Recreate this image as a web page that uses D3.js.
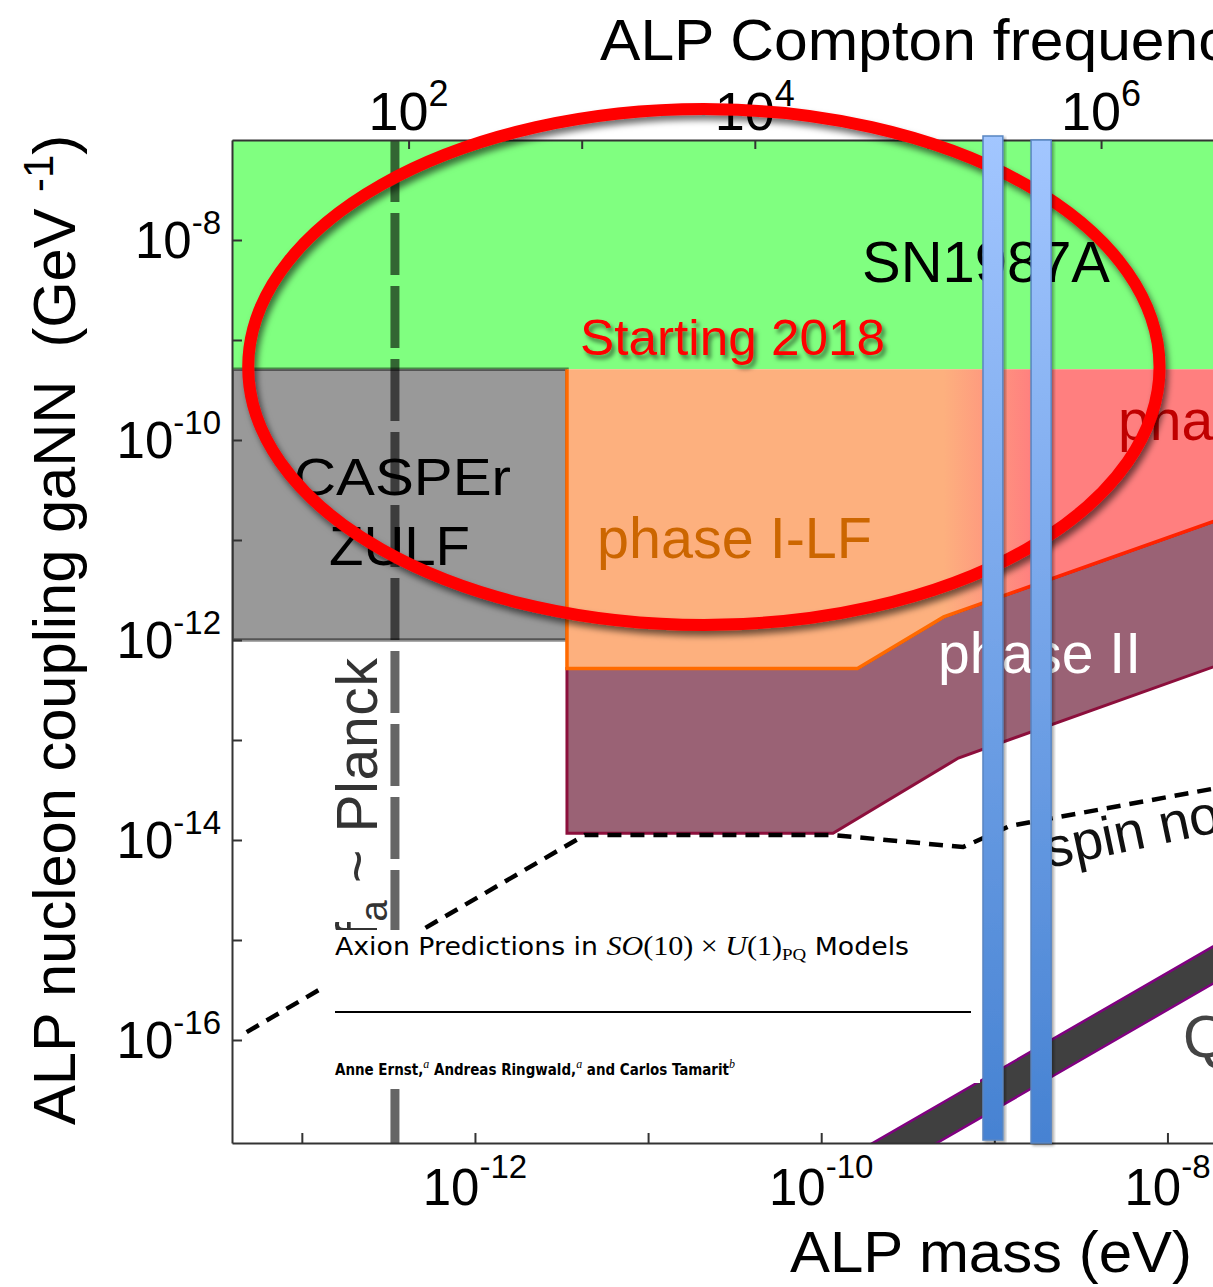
<!DOCTYPE html>
<html>
<head>
<meta charset="utf-8">
<script src="https://cdn.jsdelivr.net/npm/d3@7"></script>
<style>
  body { margin: 0; background: #fff; }
  svg { display: block; font-family: 'Liberation Sans', Arial, sans-serif; }
</style>
</head>
<body>
<div id="chart"></div>
<script>
const planckH = 4.135667e-15; // eV s, mass -> Compton frequency

// axis ticks (mass in eV, coupling in GeV^-1, frequency in Hz)
const massTicks = [1e-13, 1e-12, 1e-11, 1e-10, 1e-9, 1e-8];
const massTickLabels = ['', '-12', '', '-10', '', '-8'];
const couplingTicks = [1e-8, 1e-9, 1e-10, 1e-11, 1e-12, 1e-13, 1e-14, 1e-15, 1e-16];
const couplingTickLabels = ['-8', '', '-10', '', '-12', '', '-14', '', '-16'];
const freqTicks = [1e2, 1e3, 1e4, 1e5, 1e6];
const freqTickLabels = ['2', '', '4', '', '6'];

// regions
const massDomain = [3.95e-14, 5.83e-8];
const couplingDomain = [9.33e-18, 1e-7];
const sn1987aCoupling = [5.1e-10, 1e-7];
const zulfMass = [3.95e-14, 3.4e-12];
const zulfCoupling = [1e-12, 5.1e-10];
const phase1Mass = [3.4e-12, 1.62e-10, 5.1e-10, 5.83e-8];
const phase1Lower = [5.2e-13, 5.2e-13, 1.7e-12, 3.1e-11];
const phase1Upper = 5.1e-10;
const phase1Blend = [5.1e-10, 1.7e-9]; // LF -> phase I colour change
const phase2Mass = [3.4e-12, 1.17e-10, 6.2e-10, 5.83e-8];
const phase2Lower = [1.17e-14, 1.17e-14, 6.6e-14, 1.1e-12];
const spinNoiseMass = [4.8e-14, 4.3e-12, 1.17e-10, 6.6e-10, 1.23e-9, 5.83e-8];
const spinNoiseCoupling = [1.2e-16, 1.12e-14, 1.12e-14, 8.5e-15, 1.38e-14, 4.7e-14];
const planckMass = 3.45e-13;
const qcdMass = [1e-11, 1e-7];
const qcdUpper = [4.7e-19, 4.7e-15];
const qcdLower = [2.0e-19, 2.0e-15];

// overlay annotations
const bandMass = [[8.6e-10, 1.12e-9], [1.63e-9, 2.13e-9]];
const ellipseMass = [4.9e-14, 9.0e-9];
const ellipseCoupling = [1.41e-12, 2.04e-7];

const W = 1213, H = 1287;
const plot = { left: 232, top: 140, right: 1300, bottom: 1143 };

const svg = d3.select('#chart')
  .append('svg')
  .attr('width', W)
  .attr('height', H)

const x = d3.scaleLog().domain(massDomain).range([plot.left, plot.right]);
const y = d3.scaleLog().domain(couplingDomain).range([plot.bottom, plot.top]);
const xFreq = d3.scaleLog().domain(massDomain.map(m => m / planckH)).range(x.range());

const line = d3.line().x(d => x(d[0])).y(d => y(d[1]));
const zip = (a, b) => a.map((v, i) => [v, b[i]]);

const defs = svg.append('defs');
defs.append('clipPath').attr('id', 'plotClip')
  .append('rect')
  .attr('x', plot.left).attr('y', plot.top)
  .attr('width', plot.right - plot.left).attr('height', plot.bottom - plot.top);

const grad = (id, stops, attrs) => {
  const g = defs.append('linearGradient').attr('id', id);
  Object.entries(attrs).forEach(([k, v]) => g.attr(k, v));
  stops.forEach(([o, c]) => g.append('stop').attr('offset', o).attr('stop-color', c));
}
grad('phaseFill', [[0, '#FDB07E'], [1, '#FF7F7F']],
  { gradientUnits: 'userSpaceOnUse', x1: x(phase1Blend[0]), x2: x(phase1Blend[1]), y1: 0, y2: 0 });
grad('phaseStroke', [[0, '#FF6A00'], [1, '#FF2200']],
  { gradientUnits: 'userSpaceOnUse', x1: x(phase1Blend[0]), x2: x(phase1Blend[1]), y1: 0, y2: 0 });
grad('barFill', [[0, '#A2C6FF'], [1, '#4682D2']], { x1: 0, y1: 0, x2: 0, y2: 1 });

const shadow = (id, dx, dy, sd, op) => {
  defs.append('filter').attr('id', id)
    .attr('x', '-20%').attr('y', '-20%').attr('width', '140%').attr('height', '140%')
    .append('feDropShadow')
    .attr('dx', dx).attr('dy', dy).attr('stdDeviation', sd)
    .attr('flood-color', '#000').attr('flood-opacity', op);
}
shadow('ellShadow', 3, 5, 3, 0.55);
shadow('txtShadow', 3, 4, 2, 0.5);
shadow('barShadow', 2, 2, 1.5, 0.35);

// regions
const regions = svg.append('g').attr('clip-path', 'url(#plotClip)');

regions.append('rect')
  .attr('x', x(massDomain[0])).attr('y', y(sn1987aCoupling[1]))
  .attr('width', x(massDomain[1]) - x(massDomain[0]))
  .attr('height', y(sn1987aCoupling[0]) - y(sn1987aCoupling[1]))
  .attr('fill', '#80FF80');

regions.append('rect')
  .attr('x', x(zulfMass[0])).attr('y', y(zulfCoupling[1]))
  .attr('width', x(zulfMass[1]) - x(zulfMass[0]))
  .attr('height', y(zulfCoupling[0]) - y(zulfCoupling[1]))
  .attr('fill', '#999999')
  .attr('stroke', 'rgba(0,0,0,0.45)')
  .attr('stroke-width', 3.5);

const p1Low = zip(phase1Mass, phase1Lower);
const p2Low = zip(phase2Mass, phase2Lower);

regions.append('path')
  .attr('d', line(p1Low.concat(p2Low.slice().reverse())) + 'Z')
  .attr('fill', '#9A6275')
  .attr('stroke', '#8C0F3C')
  .attr('stroke-width', 3);

regions.append('path')
  .attr('d', line([[phase1Mass[0], phase1Upper], [phase1Mass[phase1Mass.length - 1], phase1Upper]]
    .concat(p1Low.slice().reverse())) + 'Z')
  .attr('fill', 'url(#phaseFill)');

regions.append('path')
  .attr('d', line([[phase1Mass[0], phase1Upper]].concat(p1Low)))
  .attr('fill', 'none')
  .attr('stroke', 'url(#phaseStroke)')
  .attr('stroke-width', 3.5);

regions.append('line')
  .attr('x1', x(planckMass)).attr('x2', x(planckMass))
  .attr('y1', plot.top).attr('y2', plot.bottom)
  .attr('stroke', '#000')
  .attr('stroke-opacity', 0.6)
  .attr('stroke-width', 9)
  .attr('stroke-dasharray', '62,11');

regions.append('path')
  .attr('d', line(zip(spinNoiseMass, spinNoiseCoupling)))
  .attr('fill', 'none')
  .attr('stroke', '#000')
  .attr('stroke-width', 4.5)
  .attr('stroke-dasharray', '14,9');

regions.append('path')
  .attr('d', line(zip(qcdMass, qcdUpper).concat(zip(qcdMass, qcdLower).reverse())) + 'Z')
  .attr('fill', '#404040')
  .attr('stroke', '#800080')
  .attr('stroke-width', 2.5);

// region labels
const labels = svg.append('g');
const label = (txt, px, py, size, color, len) => {
  const t = labels.append('text')
    .attr('x', px).attr('y', py)
    .attr('font-size', size)
    .attr('fill', color)
    .text(txt);
  if (len) t.attr('textLength', len).attr('lengthAdjust', 'spacingAndGlyphs');
  return t;
}
label('SN1987A', 862, 282, 58, '#000', 248);
label('CASPEr', 294, 495, 52, '#000', 217);
label('ZULF', 329, 565, 55, '#000', 141);
label('phase I-LF', 597, 558, 57, '#CC6600', 275);
label('phase I', 1118, 440, 57, '#C00000');
label('phase II', 938, 673, 57, '#fff', 203);
label('QCD axion', 1183, 1057, 60, '#444');
label('spin noise', 0, 0, 55, '#111')
  .attr('transform', 'translate(1049,868) rotate(-12)');

const fa = labels.append('text')
  .attr('transform', `translate(${x(planckMass) - 18},658) rotate(-90)`)
  .attr('text-anchor', 'end')
  .attr('font-size', 57)
  .attr('fill', '#333')
  .attr('textLength', 280).attr('lengthAdjust', 'spacing');
fa.append('tspan').text('f');
fa.append('tspan').attr('font-size', 38).attr('dy', 10).text('a');
fa.append('tspan').attr('dy', -10).text('\u00A0~ Planck');

// pasted paper header
const paper = svg.append('g');
paper.append('rect')
  .attr('x', 324).attr('y', 930).attr('width', 656).attr('height', 153)
  .attr('fill', '#fff');
const serif = "'Liberation Serif', 'DejaVu Serif', serif";
const title = paper.append('text')
  .attr('x', 335).attr('y', 955)
  .attr('font-size', 24)
  .attr('font-family', "'DejaVu Sans', sans-serif")
  .attr('textLength', 574).attr('lengthAdjust', 'spacingAndGlyphs');
title.append('tspan').text('Axion Predictions in ');
title.append('tspan').attr('font-family', serif).attr('font-style', 'italic').attr('font-size', 27).text('SO');
title.append('tspan').attr('font-family', serif).attr('font-size', 27).text('(10) \u00D7 ');
title.append('tspan').attr('font-family', serif).attr('font-style', 'italic').attr('font-size', 27).text('U');
title.append('tspan').attr('font-family', serif).attr('font-size', 27).text('(1)');
title.append('tspan').attr('font-family', serif).attr('font-size', 17).attr('dy', 5).text('PQ');
title.append('tspan').attr('dy', -5).text(' Models');

paper.append('line')
  .attr('x1', 335).attr('x2', 971).attr('y1', 1012).attr('y2', 1012)
  .attr('stroke', '#000').attr('stroke-width', 2);

const authors = paper.append('text')
  .attr('x', 335).attr('y', 1075)
  .attr('font-size', 15)
  .attr('font-weight', 'bold')
  .attr('font-family', "'DejaVu Sans Condensed', 'DejaVu Sans', sans-serif")
  .attr('textLength', 400).attr('lengthAdjust', 'spacingAndGlyphs');
[['Anne Ernst,', 'a'], [' Andreas Ringwald,', 'a'], [' and Carlos Tamarit', 'b']].forEach(([name, sup], i) => {
  authors.append('tspan').attr('dy', i ? 7 : 0).text(name);
  authors.append('tspan').attr('font-family', serif).attr('font-style', 'italic')
    .attr('font-weight', 'normal').attr('font-size', 12).attr('dy', -7).text(sup);
});

// axes
const styleAxis = g => {
  g.selectAll('path, line').attr('stroke', '#333').attr('stroke-width', 2);
  g.selectAll('text').remove();
}
svg.append('g').attr('transform', `translate(0,${plot.bottom})`)
  .call(d3.axisBottom(x).tickValues(massTicks).tickSize(-10).tickSizeOuter(0))
  .call(styleAxis);
svg.append('g').attr('transform', `translate(${plot.left},0)`)
  .call(d3.axisLeft(y).tickValues(couplingTicks).tickSize(-10).tickSizeOuter(0))
  .call(styleAxis);
svg.append('g').attr('transform', `translate(0,${plot.top})`)
  .call(d3.axisTop(xFreq).tickValues(freqTicks).tickSize(-9).tickSizeOuter(0))
  .call(styleAxis);

const powLabels = (vals, labs, pos, anchor, size, supSize, supDy) => {
  const t = svg.append('g').selectAll('text')
    .data(zip(vals, labs).filter(d => d[1]))
    .join('text')
    .attr('x', d => pos(d[0])[0])
    .attr('y', d => pos(d[0])[1])
    .attr('text-anchor', anchor)
    .attr('font-size', size)
    .attr('fill', '#000');
  t.append('tspan').text('10');
  t.append('tspan').attr('font-size', supSize).attr('dy', supDy).text(d => d[1]);
}
powLabels(massTicks, massTickLabels, v => [x(v), 1205], 'middle', 51, 33, -27);
powLabels(couplingTicks, couplingTickLabels, v => [221, y(v) + 18], 'end', 51, 33, -24);
powLabels(freqTicks, freqTickLabels, v => [xFreq(v), 130], 'middle', 54, 36, -24);

// axis titles
svg.append('text')
  .attr('x', 790).attr('y', 1272)
  .attr('font-size', 57)
  .attr('textLength', 402).attr('lengthAdjust', 'spacingAndGlyphs')
  .text('ALP mass (eV)');
svg.append('text')
  .attr('x', 600).attr('y', 60)
  .attr('font-size', 57)
  .attr('textLength', 790).attr('lengthAdjust', 'spacingAndGlyphs')
  .text('ALP Compton frequency (Hz)');
const yTitle = svg.append('text')
  .attr('transform', 'translate(75,630) rotate(-90)')
  .attr('text-anchor', 'middle')
  .attr('font-size', 60)
  .attr('textLength', 990).attr('lengthAdjust', 'spacingAndGlyphs');
yTitle.append('tspan').text('ALP nucleon coupling gaNN\u00A0\u00A0(GeV\u00A0');
yTitle.append('tspan').attr('font-size', 42).attr('dy', -22).text('-1');
yTitle.append('tspan').attr('dy', 22).text(')');

// "Starting 2018" circle
const notes = svg.append('g');
const ex = ellipseMass.map(x), ey = ellipseCoupling.map(y);
notes.append('ellipse')
  .attr('cx', (ex[0] + ex[1]) / 2).attr('cy', (ey[0] + ey[1]) / 2)
  .attr('rx', (ex[1] - ex[0]) / 2).attr('ry', (ey[0] - ey[1]) / 2)
  .attr('fill', 'none')
  .attr('stroke', '#FF0000')
  .attr('stroke-width', 12)
  .attr('filter', 'url(#ellShadow)');
notes.append('text')
  .attr('x', 580).attr('y', 355)
  .attr('font-size', 50)
  .attr('fill', '#FF0000')
  .attr('textLength', 305).attr('lengthAdjust', 'spacingAndGlyphs')
  .attr('filter', 'url(#txtShadow)')
  .text('Starting 2018');

// frequency bands
notes.selectAll('rect.band')
  .data(bandMass)
  .join('rect')
  .attr('class', 'band')
  .attr('x', d => x(d[0]))
  .attr('width', d => x(d[1]) - x(d[0]))
  .attr('y', (d, i) => plot.top - (i ? 0 : 4))
  .attr('height', (d, i) => plot.bottom - plot.top + (i ? 0 : 1))
  .attr('fill', 'url(#barFill)')
  .attr('stroke', '#5A86C2')
  .attr('stroke-width', 1.5)
  .attr('filter', 'url(#barShadow)');
</script>
</body>
</html>
